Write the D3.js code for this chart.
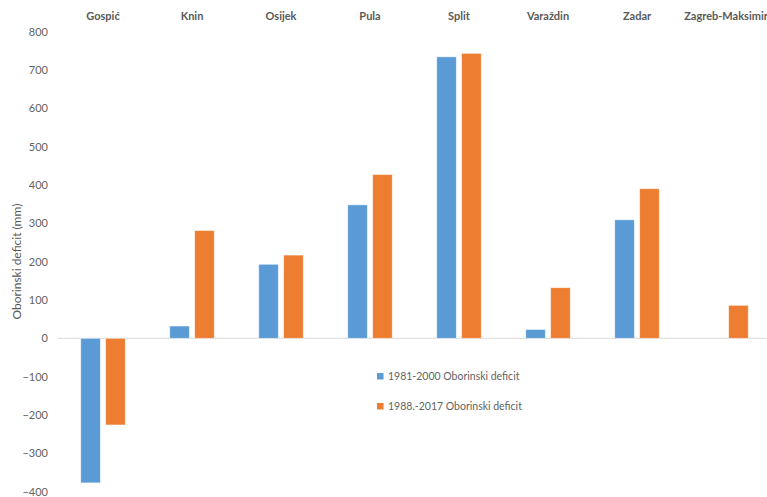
<!DOCTYPE html>
<html>
<head>
<meta charset="utf-8">
<script src="https://cdn.jsdelivr.net/npm/d3@7"></script>
<style>
  html, body { margin: 0; padding: 0; background: #fff; }
  svg { display: block; font-family: Lato, "Open Sans", "Liberation Sans", sans-serif; }
</style>
</head>
<body>
<svg id="chart" width="767" height="497"></svg>
<script>
// Meteorological stations
const stations = ["Gospić", "Knin", "Osijek", "Pula", "Split", "Varaždin", "Zadar", "Zagreb-Maksimir"];
// Precipitation deficit (mm) per period
const deficit1981_2000 = [-377, 32, 193, 348, 734, 23, 309, 0];
const deficit1988_2017 = [-226, 281, 217, 427, 743, 132, 390, 86];
const seriesNames = ["1981-2000 Oborinski deficit", "1988.-2017 Oborinski deficit"];
const seriesColors = ["#5B9BD5", "#ED7D31"];
const yTicks = [-400, -300, -200, -100, 0, 100, 200, 300, 400, 500, 600, 700, 800];

const series = [deficit1981_2000, deficit1988_2017];

const svg = d3.select("#chart");

const x0 = d3.scaleBand()
  .domain(stations)
  .range([58.5, 770.5])
  .paddingInner(0.5)
  .paddingOuter(0.25);

const x1 = d3.scaleBand()
  .domain(seriesNames)
  .range([0, x0.bandwidth()])
  .paddingInner(0.213);

const y = d3.scaleLinear()
  .domain([-400, 800])
  .range([491.7, 31.5]);

// Y axis labels (no axis line)
const yAxis = d3.axisLeft(y).tickValues(yTicks).tickSize(0).tickPadding(0);
const yg = svg.append("g").attr("transform", "translate(48,0)").call(yAxis);
yg.select(".domain").remove();
yg.selectAll("text")
  .attr("fill", "#636363")
  .style("font-size", "11px")
  .style("font-family", "Lato, 'Open Sans', sans-serif");

// Zero baseline
svg.append("line")
  .attr("x1", 58).attr("x2", 767)
  .attr("y1", y(0)).attr("y2", y(0))
  .attr("stroke", "#d9d9d9")
  .attr("stroke-width", 1);

// Bars
const groups = svg.append("g").selectAll("g")
  .data(stations)
  .join("g")
  .attr("transform", d => `translate(${x0(d)},0)`);

groups.selectAll("rect")
  .data((d, i) => series.map((s, k) => ({ name: seriesNames[k], value: s[i], color: seriesColors[k] })))
  .join("rect")
  .filter(d => d.value !== 0)
  .attr("x", d => x1(d.name))
  .attr("width", x1.bandwidth())
  .attr("y", d => y(Math.max(0, d.value)))
  .attr("height", d => Math.abs(y(d.value) - y(0)))
  .attr("fill", d => d.color)
  .attr("stroke", "#ffffff")
  .attr("stroke-opacity", 0.6)
  .attr("stroke-width", 0.8);

// Station labels along the top
const xAxis = d3.axisTop(x0).tickSize(0).tickPadding(0);
const xg = svg.append("g").attr("transform", "translate(0,20)").call(xAxis);
xg.select(".domain").remove();
xg.selectAll("text")
  .attr("fill", "#595959")
  .style("font-size", "11px")
  .style("font-weight", "bold")
  .style("font-family", "Lato, 'Open Sans', sans-serif");

// Y axis title
svg.append("text")
  .attr("transform", `translate(21,${(y(800) + y(-400)) / 2}) rotate(-90)`)
  .attr("text-anchor", "middle")
  .attr("fill", "#595959")
  .style("font-size", "12px")
  .text("Oborinski deficit (mm)");

// Legend
const legend = svg.append("g").selectAll("g")
  .data(seriesNames)
  .join("g")
  .attr("transform", (d, i) => `translate(377,${373 + i * 30})`);

legend.append("rect")
  .attr("width", 6.5).attr("height", 6.5)
  .attr("fill", (d, i) => seriesColors[i]);

legend.append("text")
  .attr("x", 11)
  .attr("y", 3.5)
  .attr("dy", "0.35em")
  .attr("fill", "#636363")
  .style("font-size", "10.5px")
  .text(d => d);
</script>
</body>
</html>
